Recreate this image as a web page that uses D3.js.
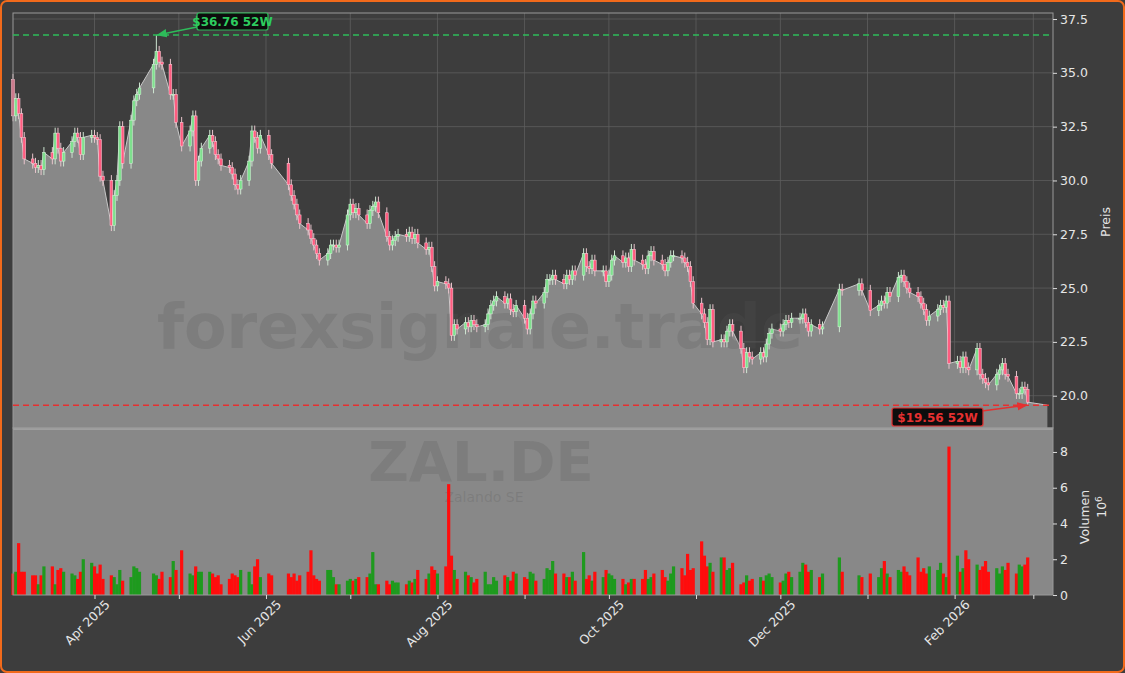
<!DOCTYPE html>
<html><head><meta charset="utf-8">
<script src="https://cdn.jsdelivr.net/npm/d3@7"></script>
<style>
body{margin:0;background:#3d3d3d;}
svg{display:block;font-family:"DejaVu Sans",sans-serif;}
</style></head>
<body><svg id="chart" width="1125" height="673"></svg>
<script>
// trading days (Xetra), some days missing in the feed
var skipDays = ["2025-04-18","2025-04-21","2025-05-01","2025-06-04","2025-06-05","2025-06-06",
  "2025-12-17","2025-12-18","2025-12-19","2025-12-24","2025-12-25","2025-12-26","2025-12-31","2026-01-01"];

var closes = [
  // Mar
  33.0,33.8,33.1,32.0,31.0, 30.8,30.6,30.7,30.5,31.3, 31.0,32.2,31.5,30.9,31.3, 31.8,32.2,32.0,31.2,32.0, 32.1,
  // Apr
  32.0,31.9,30.2,30.0, 27.9,29.3,30.0,32.5,30.8, 32.8,33.7,34.0,34.3, 35.4,36.0,35.5,35.4, 34.0,34.0,32.7,
  // May
  31.6, 32.3,33.0,30.0,30.9,31.5, 32.1,31.8,31.2,31.0,30.7, 30.6,30.3,29.8,29.6,30.0, 30.9,32.3,32.0,31.5,32.1,
  // Jun
  31.2,30.8, 29.8,29.3,28.9,28.4,28.0, 27.7,27.3,27.0,26.6,26.3, 26.6,27.0,27.0,26.9,27.0, 28.4,
  // Jul
  28.9,28.5,28.7,28.4, 28.0,28.6,28.8,29.0,28.5, 27.4,27.0,27.2,27.4,27.5, 27.4,27.6,27.3,27.5,27.1, 26.8,26.9,26.0,25.1,
  // Aug
  25.3, 25.2,25.0,22.8,23.3,23.1, 23.4,23.2,23.5,23.3,23.2, 23.3,23.8,24.2,24.4,24.6, 24.3,24.5,24.0,23.9,24.2,
  // Sep
  23.6,23.1,23.8,24.4,24.3, 24.8,25.4,25.4,25.6,25.4, 25.2,25.6,25.4,25.8,25.6, 26.6,26.0,25.9,26.3,25.8, 25.8,25.3,
  // Oct
  25.6,26.3,26.5, 26.2,26.4,26.0,26.8,26.3, 26.1,25.9,26.5,26.7,26.3, 26.1,25.8,26.2,26.5,26.5, 26.4,26.2,26.0,25.3,24.3,
  // Nov
  23.8,23.4,22.6,24.0,22.5, 22.6,22.5,23.0,23.3,23.0, 22.2,21.3,22.0,21.8,21.7, 22.0,21.8,22.4,22.9,23.1,
  // Dec
  23.0,23.3,23.5,23.4,23.6, 23.6,23.8,23.4,23.0,23.3, 23.1,23.2, 24.95,24.9, 25.2,24.9,
  // Jan
  23.95, 24.2,24.4,24.3,24.8,24.6, 25.5,25.6,25.3,25.0,24.8, 24.6,24.3,24.0,23.5,23.7, 24.0,24.2,24.1,24.4,21.5,
  // Feb
  21.6,21.3,21.8,21.3,21.2, 22.2,21.0,20.8,20.6,20.5, 21.0,21.2,21.5,21.0,20.9, 20.1,20.1,20.4,20.3,19.7
];
// volume in millions
var volumes = [
  // Mar
  1.2,1.3,2.9,1.3,1.3, 1.1,1.1,0.6,1.1,1.6, 1.6,0.6,1.4,1.5,1.3, 1.2,1.1,0.9,1.3,2.0, 1.8,
  // Apr
  1.6,1.2,1.7,0.9, 1.1,1.0,0.6,1.4,0.8, 1.0,1.6,1.5,1.3, 1.2,1.1,0.9,1.3, 1.0,1.9,1.4,
  // May
  2.5, 1.2,1.1,1.6,1.3,1.3, 1.3,1.2,1.0,1.1,0.6, 0.9,1.2,1.1,1.0,1.4, 1.3,0.6,1.6,2.0,1.0,
  // Jun
  1.2,1.1, 1.2,1.0,1.2,0.8,1.1, 1.3,2.5,1.1,0.9,0.8, 1.4,1.4,1.0,0.6,0.6, 0.8,
  // Jul
  0.9,0.8,0.9,1.0, 1.0,1.2,2.4,0.6,0.6, 0.8,0.6,0.8,0.7,0.7, 0.6,0.8,0.7,0.9,1.4, 0.9,1.2,1.6,1.4,
  // Aug
  1.2, 1.6,6.2,2.2,1.4,0.9, 1.3,1.1,1.0,0.7,0.9, 1.3,0.6,0.6,1.0,0.8, 1.1,1.0,0.8,1.3,1.2,
  // Sep
  1.0,0.9,1.3,1.2,0.8, 0.9,1.5,1.4,1.9,1.2, 1.2,1.0,1.0,1.3,0.8, 2.4,0.9,1.1,0.8,1.3, 1.0,1.4,
  // Oct
  1.2,1.1,0.9, 0.9,0.6,0.7,0.9,0.9, 0.9,1.4,0.9,1.0,1.2, 1.4,1.0,0.8,1.2,1.6, 1.5,1.1,2.3,1.4,1.5,
  // Nov
  3.0,2.2,1.6,1.8,1.3, 2.1,2.1,1.4,1.5,1.8, 0.6,0.7,1.1,0.8,0.9, 1.0,0.8,1.1,1.2,1.0,
  // Dec
  0.7,0.8,1.2,1.3,1.0, 1.3,1.8,1.7,1.3,1.4, 1.0,1.2, 2.1,1.3, 1.1,1.0,
  // Jan
  1.2,1.0,1.5,1.9,1.2, 1.0,1.4,1.3,1.6,1.3, 1.1,2.1,1.3,1.5,1.2, 1.6,1.4,1.8,1.2,1.0, 8.3,
  // Feb
  2.2,1.3,1.5,2.5,2.0, 1.7,1.4,1.6,1.9,1.3, 1.5,1.2,1.6,1.4,1.8, 1.2,1.7,1.6,1.7,2.1
];
var firstOpen = 34.7;
var extremes = {"2025-04-23": {high: 36.76}, "2026-02-27": {low: 19.56}};
var high52 = 36.76, low52 = 19.56;
var priceTicks = [20, 22.5, 25, 27.5, 30, 32.5, 35, 37.5];
var volTicks = [0, 2, 4, 6, 8];

// build trading dates
var fmt = d3.timeFormat("%Y-%m-%d");
var dates = [];
d3.timeDay.range(new Date(2025, 2, 3), new Date(2026, 1, 28)).forEach(function(d) {
  var wd = d.getDay();
  if (wd === 0 || wd === 6) return;
  if (skipDays.indexOf(fmt(d)) >= 0) return;
  dates.push(d);
});
var n = Math.min(dates.length, closes.length);
var data = [];
for (var i = 0; i < n; i++) {
  var o = i === 0 ? firstOpen : closes[i - 1];
  var c = closes[i];
  var ex = extremes[fmt(dates[i])] || {};
  data.push({
    date: dates[i], open: o, close: c,
    high: ex.high || Math.max(o, c) + 0.25,
    low: ex.low || Math.min(o, c) - 0.25,
    vol: volumes[i] || 1
  });
}

var svg = d3.select("#chart");
var L = 13, R = 1053, pTop = 13, pBot = 428, vBot = 595;

svg.append("rect").attr("x", 1).attr("y", 1).attr("width", 1123).attr("height", 671)
  .attr("rx", 6).attr("fill", "#3d3d3d").attr("stroke", "#f26a1b").attr("stroke-width", 2);

var x = d3.scaleTime().domain([new Date(2025, 2, 3), new Date(2026, 2, 8)]).range([L, R]);
var y = d3.scaleLinear().domain([18.5, 37.78]).range([pBot, pTop]);
var yv = d3.scaleLinear().domain([0, 9.34]).range([vBot, pBot]);

var months = d3.timeMonth.range(new Date(2025, 3, 1), new Date(2026, 2, 2));

// grid price panel
var grid = svg.append("g");
grid.selectAll(".hg").data(priceTicks).enter().append("line")
  .attr("x1", L).attr("x2", R).attr("y1", function(d){return y(d);}).attr("y2", function(d){return y(d);})
  .attr("stroke", "#5e5e5e").attr("stroke-width", 0.8);
grid.selectAll(".vg").data(months).enter().append("line")
  .attr("x1", function(d){return x(d);}).attr("x2", function(d){return x(d);})
  .attr("y1", pTop).attr("y2", pBot).attr("stroke", "#5e5e5e").attr("stroke-width", 0.8);

// volume panel background
svg.append("rect").attr("x", L).attr("y", pBot).attr("width", R - L).attr("height", vBot - pBot).attr("fill", "#888888");

// area
var areaData = data.concat([{date: new Date(2026, 2, 6), close: data[data.length - 1].close - 0.14}]);
var area = d3.area().x(function(d){return x(d.date);}).y0(pBot).y1(function(d){return y(d.close);});
svg.append("path").datum(areaData).attr("d", area).attr("fill", "#888888");
svg.append("path").datum(areaData)
  .attr("d", d3.line().x(function(d){return x(d.date);}).y(function(d){return y(d.close);}))
  .attr("fill", "none").attr("stroke", "#c8c8c8").attr("stroke-width", 1);

// watermarks
var wm = "rgba(85,85,85,0.22)";
svg.append("text").attr("x", 480).attr("y", 348).attr("text-anchor", "middle")
  .attr("font-size", 62).attr("font-weight", "bold").attr("fill", wm).text("forexsignale.trade");
svg.append("text").attr("x", 481).attr("y", 481).attr("text-anchor", "middle")
  .attr("font-size", 56).attr("font-weight", "bold").attr("fill", wm).text("ZAL.DE");
svg.append("text").attr("x", 484).attr("y", 502).attr("text-anchor", "middle")
  .attr("font-size", 14).attr("fill", wm).text("Zalando SE");

// candles
var cg = svg.append("g");
cg.selectAll("line").data(data).enter().append("line")
  .attr("x1", function(d){return x(d.date);}).attr("x2", function(d){return x(d.date);})
  .attr("y1", function(d){return y(d.high);}).attr("y2", function(d){return y(d.low);})
  .attr("stroke", function(d){return d.close >= d.open ? "#cfe6d2" : "#e8c4cc";}).attr("stroke-width", 1);
cg.selectAll("rect").data(data).enter().append("rect")
  .attr("x", function(d){return x(d.date) - 1.4;}).attr("width", 2.8)
  .attr("y", function(d){return y(Math.max(d.open, d.close));})
  .attr("height", function(d){return Math.max(1, Math.abs(y(d.open) - y(d.close)));})
  .attr("fill", function(d){return d.close >= d.open ? "#7fe08e" : "#ff5c80";})
  .attr("stroke", function(d){return d.close >= d.open ? "#d8f5dc" : "#ffd0da";}).attr("stroke-width", 0.5);

// volume bars
svg.append("g").selectAll("rect").data(data).enter().append("rect")
  .attr("x", function(d){return x(d.date) - 1.6;}).attr("width", 3.2)
  .attr("y", function(d){return yv(d.vol);}).attr("height", function(d){return vBot - yv(d.vol);})
  .attr("fill", function(d){return d.close >= d.open ? "#1e9a1e" : "#ff0d0d";});

// frames
svg.append("rect").attr("x", L).attr("y", pTop).attr("width", R - L).attr("height", pBot - pTop)
  .attr("fill", "none").attr("stroke", "#9a9a9a").attr("stroke-width", 1);
svg.append("line").attr("x1", L).attr("x2", R).attr("y1", pBot + 1).attr("y2", pBot + 1).attr("stroke", "#a0a0a0").attr("stroke-width", 2);
svg.append("rect").attr("x", L).attr("y", pBot).attr("width", R - L).attr("height", vBot - pBot)
  .attr("fill", "none").attr("stroke", "#9a9a9a").attr("stroke-width", 1);

// 52W lines
svg.append("line").attr("x1", L).attr("x2", R).attr("y1", y(high52)).attr("y2", y(high52))
  .attr("stroke", "#2ebc5a").attr("stroke-width", 1.5).attr("stroke-dasharray", "6,4");
svg.append("line").attr("x1", L).attr("x2", R).attr("y1", y(low52)).attr("y2", y(low52))
  .attr("stroke", "#e53030").attr("stroke-width", 1.5).attr("stroke-dasharray", "6,4");

var defs = svg.append("defs");
[["ag", "#2ebc5a"], ["ar", "#e53030"]].forEach(function(a) {
  defs.append("marker").attr("id", a[0]).attr("viewBox", "0 0 10 10").attr("refX", 9).attr("refY", 5)
    .attr("markerWidth", 7).attr("markerHeight", 7).attr("orient", "auto")
    .append("path").attr("d", "M0,1L10,5L0,9z").attr("fill", a[1]);
});
var hiD = data.filter(function(d){return d.high === high52;})[0];
var loD = data[data.length - 1];
svg.append("line").attr("x1", 197).attr("y1", 27).attr("x2", x(hiD.date) + 1).attr("y2", y(high52))
  .attr("stroke", "#2ebc5a").attr("stroke-width", 1.5).attr("marker-end", "url(#ag)");
svg.append("rect").attr("x", 197).attr("y", 13).attr("width", 71).attr("height", 17).attr("rx", 2)
  .attr("fill", "#0d0d0d").attr("stroke", "#2ebc5a").attr("stroke-width", 1.2);
svg.append("text").attr("x", 232.5).attr("y", 26).attr("text-anchor", "middle").attr("font-size", 12)
  .attr("font-weight", "bold").attr("fill", "#2ecc5f").text("$" + high52.toFixed(2) + " 52W");

svg.append("line").attr("x1", 982).attr("y1", 411).attr("x2", x(loD.date) - 1).attr("y2", y(low52))
  .attr("stroke", "#e53030").attr("stroke-width", 1.5).attr("marker-end", "url(#ar)");
svg.append("rect").attr("x", 892).attr("y", 408).attr("width", 91).attr("height", 18).attr("rx", 2)
  .attr("fill", "#0d0d0d").attr("stroke", "#e53030").attr("stroke-width", 1.2);
svg.append("text").attr("x", 937.5).attr("y", 421.5).attr("text-anchor", "middle").attr("font-size", 12)
  .attr("font-weight", "bold").attr("fill", "#e53030").text("$" + low52.toFixed(2) + " 52W");

// axes
function styleAxis(g) {
  g.select(".domain").remove();
  g.selectAll("line").attr("stroke", "#dddddd");
  g.selectAll("text").attr("fill", "#e6e6e6").attr("font-size", 12.5).attr("font-family", "DejaVu Sans");
}
svg.append("g").attr("transform", "translate(" + R + ",0)")
  .call(d3.axisRight(y).tickValues(priceTicks).tickFormat(d3.format(".1f")).tickSize(4).tickPadding(3))
  .call(styleAxis);
svg.append("g").attr("transform", "translate(" + R + ",0)")
  .call(d3.axisRight(yv).tickValues(volTicks).tickFormat(d3.format("d")).tickSize(4).tickPadding(3))
  .call(styleAxis);
var xa = svg.append("g").attr("transform", "translate(0," + vBot + ")")
  .call(d3.axisBottom(x).tickValues(months).tickSize(4)
    .tickFormat(function(d){return d.getMonth() % 2 === 1 ? d3.timeFormat("%b %Y")(d) : "";}))
  .call(styleAxis);
xa.selectAll("text").attr("text-anchor", "end").attr("dx", "0.3em").attr("dy", "0.9em")
  .attr("transform", "rotate(-45)");

svg.append("text").attr("transform", "translate(1110,222) rotate(-90)").attr("text-anchor", "middle")
  .attr("font-size", 12.5).attr("fill", "#e6e6e6").text("Preis");
svg.append("text").attr("transform", "translate(1089,517) rotate(-90)").attr("text-anchor", "middle")
  .attr("font-size", 12.5).attr("fill", "#e6e6e6").text("Volumen");
var t6 = svg.append("text").attr("transform", "translate(1106,507) rotate(-90)").attr("text-anchor", "middle")
  .attr("font-size", 12.5).attr("fill", "#e6e6e6");
t6.append("tspan").text("10");
t6.append("tspan").attr("font-size", 9).attr("dy", "-0.5em").text("6");
</script></body></html>
